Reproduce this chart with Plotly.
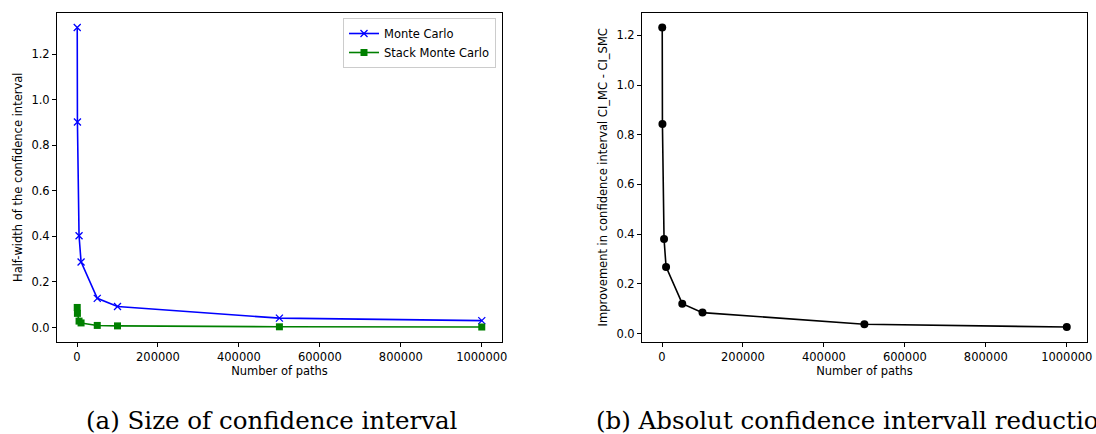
import plotly.graph_objects as go

# Data
paths = [500, 1000, 5000, 10000, 50000, 100000, 500000, 1000000]
ci_mc = [1.318, 0.903, 0.403, 0.288, 0.128, 0.092, 0.041, 0.030]
ci_smc = [0.088, 0.062, 0.028, 0.020, 0.009, 0.007, 0.003, 0.002]
improvement = [1.232, 0.843, 0.380, 0.268, 0.120, 0.084, 0.037, 0.026]

x_ticks = [0, 200000, 400000, 600000, 800000, 1000000]
y_ticks = [0.0, 0.2, 0.4, 0.6, 0.8, 1.0, 1.2]

W, H = 1096, 434
tick_font = dict(family="DejaVu Sans", size=11.5, color="black")

fig = go.Figure()
fig.add_trace(go.Scatter(
    x=paths, y=ci_mc, mode="lines+markers", name="Monte Carlo",
    line=dict(color="blue", width=1.6),
    marker=dict(symbol="x-thin", size=7, color="blue", line=dict(color="blue", width=1.3)),
    xaxis="x", yaxis="y"))
fig.add_trace(go.Scatter(
    x=paths, y=ci_smc, mode="lines+markers", name="Stack Monte Carlo",
    line=dict(color="green", width=1.6),
    marker=dict(symbol="square", size=7, color="green"),
    xaxis="x", yaxis="y"))
fig.add_trace(go.Scatter(
    x=paths, y=improvement, mode="lines+markers", name="Improvement",
    line=dict(color="black", width=1.6),
    marker=dict(symbol="circle", size=8, color="black"),
    showlegend=False, xaxis="x2", yaxis="y2"))

axis_common = dict(
    showline=True, mirror=True, linecolor="black", linewidth=1,
    ticks="outside", ticklen=4, tickwidth=1, tickcolor="black",
    showgrid=False, zeroline=False, tickfont=tick_font, automargin=False,
)

def span(vals, frac=0.05):
    lo, hi = min(vals), max(vals)
    d = (hi - lo) * frac
    return [lo - d, hi + d]

fig.update_layout(
    width=W, height=H,
    margin=dict(l=0, r=0, t=0, b=0, autoexpand=False),
    paper_bgcolor="white", plot_bgcolor="white",
    xaxis=dict(domain=[57 / W, 502 / W], anchor="y", range=span(paths),
               tickvals=x_ticks, tickformat="d",
               title=dict(text="Number of paths", font=tick_font, standoff=4),
               **axis_common),
    yaxis=dict(domain=[1 - 342 / H, 1 - 12.5 / H], anchor="x", range=span(ci_mc + ci_smc),
               tickvals=y_ticks, tickformat=".1f",
               title=dict(text="Half-width of the confidence interval", font=tick_font, standoff=6),
               **axis_common),
    xaxis2=dict(domain=[642 / W, 1087 / W], anchor="y2", range=span(paths),
                tickvals=x_ticks, tickformat="d",
                title=dict(text="Number of paths", font=tick_font, standoff=4),
                **axis_common),
    yaxis2=dict(domain=[1 - 342 / H, 1 - 12.5 / H], anchor="x2", range=span(improvement),
                tickvals=y_ticks, tickformat=".1f",
                title=dict(text="Improvement in confidence interval CI_MC - CI_SMC", font=tick_font, standoff=6),
                **axis_common),
    legend=dict(x=496 / W, y=1 - 18 / H, xanchor="right", yanchor="top",
                bgcolor="white", bordercolor="#cccccc", borderwidth=1,
                font=dict(family="DejaVu Sans", size=11.5, color="black"),
                tracegroupgap=0),
    showlegend=True,
)

cap_font = dict(family="DejaVu Serif", size=24.5, color="black")
fig.add_annotation(text="(a) Size of confidence interval", x=272 / W, y=1 - 420 / H,
                   xref="paper", yref="paper", showarrow=False, font=cap_font,
                   xanchor="center", yanchor="middle")
fig.add_annotation(text="(b) Absolut confidence intervall reduction", x=594 / W, y=1 - 420 / H,
                   xref="paper", yref="paper", showarrow=False, font=cap_font,
                   xanchor="left", yanchor="middle")

fig.write_html("out.html", config={"displayModeBar": False},
               post_script="document.body.style.margin='0';")
